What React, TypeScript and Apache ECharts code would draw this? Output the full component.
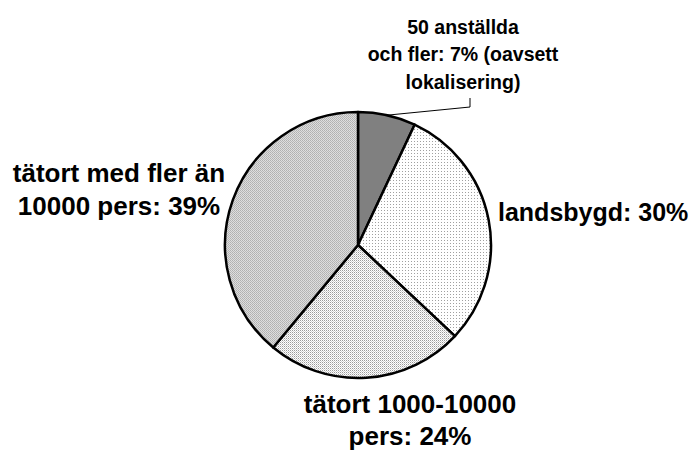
import React, { useEffect, useRef } from "react";
import * as echarts from "echarts";

const categories = [
  "50 anställda\noch fler: 7% (oavsett\nlokalisering)",
  "landsbygd: 30%",
  "tätort 1000-10000\npers: 24%",
  "tätort med fler än\n10000 pers: 39%",
];
const values = [7, 30, 24, 39];

function makePattern(size: number, cells: [number, number, string][], bg: string) {
  const c = document.createElement("canvas");
  c.width = size;
  c.height = size;
  const ctx = c.getContext("2d")!;
  ctx.fillStyle = bg;
  ctx.fillRect(0, 0, size, size);
  cells.forEach(([x, y, col]) => {
    ctx.fillStyle = col;
    ctx.fillRect(x, y, 1, 1);
  });
  return { image: c, repeat: "repeat" as const };
}

export default function App() {
  const ref = useRef<HTMLDivElement>(null);
  useEffect(() => {
    document.body.style.margin = "0";
    const chart = echarts.init(ref.current!, undefined, { renderer: "svg" });
    const fills: any[] = [
      "#808080",
      makePattern(3, [[0, 0, "#a0a0a0"]], "#ffffff"),
      makePattern(2, [[0, 0, "#9a9a9a"], [1, 1, "#d0d0d0"]], "#ffffff"),
      makePattern(2, [[0, 0, "#b0b0b0"], [1, 1, "#b8b8b8"], [1, 0, "#e0e0e0"]], "#dcdcdc"),
    ];
    const cx = 358;
    const cy = 245;
    const r = 133;
    const total = values.reduce((a, b) => a + b, 0);
    const mid0 = (values[0] / total / 2) * Math.PI * 2;
    const edge = [cx + r * Math.sin(mid0), cy - r * Math.cos(mid0)];
    const labelPos = [
      { x: 463, y: 54, align: "center" },
      { x: 498, y: 212, align: "left" },
      { x: 410, y: 420, align: "center" },
      { x: 119, y: 189, align: "center" },
    ];
    const labelFont = [
      { fontSize: 19.5, lineHeight: 27.5 },
      { fontSize: 25, lineHeight: 33 },
      { fontSize: 26, lineHeight: 32 },
      { fontSize: 26, lineHeight: 33 },
    ];
    chart.setOption({
      animation: false,
      graphic: [
        {
          type: "polyline",
          shape: { points: [edge, [470, 107], [470, 98]] },
          style: { stroke: "#000", lineWidth: 1, fill: null },
          silent: true,
        },
      ],
      series: [
        {
          type: "pie",
          center: [cx, cy],
          radius: r,
          startAngle: 90,
          clockwise: true,
          data: values.map((v, i) => ({
            value: v,
            name: categories[i],
            itemStyle: { color: fills[i] },
            label: labelFont[i],
          })),
          itemStyle: { borderColor: "#000", borderWidth: 2.5 },
          emphasis: { disabled: true },
          label: {
            show: true,
            position: "outside",
            alignTo: "none",
            overflow: "none",
            formatter: "{b}",
            color: "#000",
            fontWeight: "bold",
            fontFamily: "Liberation Sans, Arial, sans-serif",
          },
          labelLine: { show: false },
          labelLayout: (p: any) => {
            const lp = labelPos[p.dataIndex];
            return {
              x: lp.x,
              y: lp.y,
              align: lp.align,
              verticalAlign: "middle",
            };
          },
        },
      ],
    });
    return () => chart.dispose();
  }, []);
  return (
    <div
      ref={ref}
      style={{ position: "absolute", left: 0, top: 0, width: 695, height: 450 }}
    />
  );
}
